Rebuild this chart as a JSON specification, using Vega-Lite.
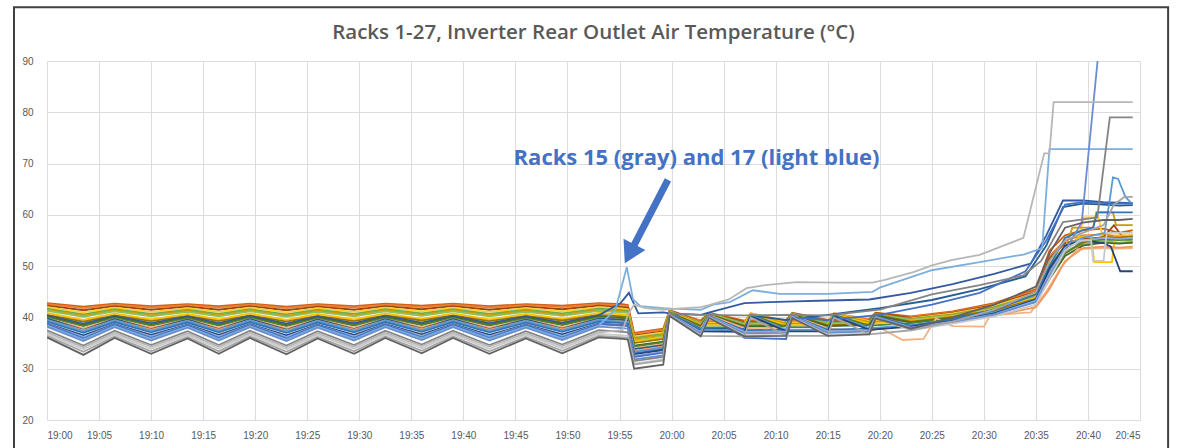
{
"$schema":"https://vega.github.io/schema/vega-lite/v6.json",
"width":1093,"height":359,
"autosize":{"type":"none"},
"padding":{"top":61,"left":47,"right":38,"bottom":28},
"background":"white",
"title":{"text":"Racks 1-27, Inverter Rear Outlet Air Temperature (°C)","font":"Open Sans","fontSize":20.5,"fontWeight":600,"color":"#595959","anchor":"middle","offset":-57,"baseline":"bottom"},
"config":{"view":{"stroke":null},"axis":{"grid":true,"gridColor":"#DCDCDC","gridWidth":1,"domain":false,"ticks":false,"labelFont":"Liberation Sans","labelFontSize":10,"labelColor":"#595959","title":null}},
"layer":[
{"data":{"values":[{}]},"mark":{"type":"rect","fill":"transparent","stroke":"#404040","strokeWidth":2,"clip":false},
 "encoding":{"x":{"datum":-3.17,"type":"quantitative"},"x2":{"datum":107.7},"y":{"datum":100.5,"type":"quantitative"},"y2":{"datum":12}}},
{"data":{"values":[
{"m":0,"r":20,"v":42.8},{"m":3.5,"r":20,"v":42.1},{"m":6.5,"r":20,"v":42.7},{"m":10,"r":20,"v":42.2},{"m":13.5,"r":20,"v":42.6},{"m":16.5,"r":20,"v":42.2},{"m":19.5,"r":20,"v":42.7},{"m":23,"r":20,"v":42.1},{"m":26,"r":20,"v":42.6},{"m":29.5,"r":20,"v":42.2},{"m":32.5,"r":20,"v":42.7},{"m":36,"r":20,"v":42.3},{"m":39,"r":20,"v":42.7},{"m":42.5,"r":20,"v":42.2},{"m":46,"r":20,"v":42.6},{"m":49.5,"r":20,"v":42.3},{"m":53,"r":20,"v":42.8},{"m":55.3,"r":20,"v":42.6},{"m":55.8,"r":20,"v":42.4},{"m":56.4,"r":20,"v":37.0},{"m":59.2,"r":20,"v":37.8},{"m":59.8,"r":20,"v":41.4},{"m":62.8,"r":20,"v":39.4},{"m":63.6,"r":20,"v":40.9},{"m":67,"r":20,"v":39.4},{"m":71,"r":20,"v":39.5},{"m":71.6,"r":20,"v":40.9},{"m":75,"r":20,"v":39.5},{"m":79,"r":20,"v":39.7},{"m":79.6,"r":20,"v":40.9},{"m":83,"r":20,"v":40.2},{"m":87,"r":20,"v":41.2},{"m":91,"r":20,"v":42.8},{"m":95,"r":20,"v":45.5},{"m":96.3,"r":20,"v":53},{"m":97.8,"r":20,"v":56},{"m":99.5,"r":20,"v":57},{"m":101.5,"r":20,"v":57.3},{"m":103,"r":20,"v":56.5},{"m":104.3,"r":20,"v":57},
{"m":0,"r":2,"v":42.6},{"m":3.5,"r":2,"v":41.8},{"m":6.5,"r":2,"v":42.5},{"m":10,"r":2,"v":41.9},{"m":13.5,"r":2,"v":42.4},{"m":16.5,"r":2,"v":41.9},{"m":19.5,"r":2,"v":42.5},{"m":23,"r":2,"v":41.8},{"m":26,"r":2,"v":42.4},{"m":29.5,"r":2,"v":41.9},{"m":32.5,"r":2,"v":42.5},{"m":36,"r":2,"v":42.0},{"m":39,"r":2,"v":42.5},{"m":42.5,"r":2,"v":41.9},{"m":46,"r":2,"v":42.4},{"m":49.5,"r":2,"v":42.0},{"m":53,"r":2,"v":42.6},{"m":55.3,"r":2,"v":42.3},{"m":55.8,"r":2,"v":42.2},{"m":56.4,"r":2,"v":36.8},{"m":59.2,"r":2,"v":37.6},{"m":59.8,"r":2,"v":41.3},{"m":62.8,"r":2,"v":39.3},{"m":67,"r":2,"v":39.2},{"m":67.6,"r":2,"v":40.8},{"m":71,"r":2,"v":39.3},{"m":75,"r":2,"v":39.3},{"m":75.6,"r":2,"v":40.8},{"m":79,"r":2,"v":39.6},{"m":83,"r":2,"v":40.1},{"m":87,"r":2,"v":41.0},{"m":91,"r":2,"v":42.6},{"m":95,"r":2,"v":45.2},{"m":96.3,"r":2,"v":52},{"m":97.8,"r":2,"v":55},{"m":99.5,"r":2,"v":56},{"m":101.5,"r":2,"v":56.2},{"m":103,"r":2,"v":55.8},{"m":104.3,"r":2,"v":56},
{"m":0,"r":8,"v":42.3},{"m":3.5,"r":8,"v":41.4},{"m":6.5,"r":8,"v":42.2},{"m":10,"r":8,"v":41.5},{"m":13.5,"r":8,"v":42.1},{"m":16.5,"r":8,"v":41.5},{"m":19.5,"r":8,"v":42.2},{"m":23,"r":8,"v":41.4},{"m":26,"r":8,"v":42.1},{"m":29.5,"r":8,"v":41.5},{"m":32.5,"r":8,"v":42.2},{"m":36,"r":8,"v":41.6},{"m":39,"r":8,"v":42.2},{"m":42.5,"r":8,"v":41.5},{"m":46,"r":8,"v":42.1},{"m":49.5,"r":8,"v":41.6},{"m":53,"r":8,"v":42.3},{"m":55.3,"r":8,"v":42.0},{"m":55.8,"r":8,"v":41.9},{"m":56.4,"r":8,"v":36.5},{"m":59.2,"r":8,"v":37.3},{"m":59.8,"r":8,"v":41.3},{"m":62.8,"r":8,"v":39.1},{"m":63.6,"r":8,"v":40.8},{"m":67,"r":8,"v":39.1},{"m":71,"r":8,"v":39.2},{"m":71.6,"r":8,"v":40.8},{"m":75,"r":8,"v":39.2},{"m":79,"r":8,"v":39.4},{"m":79.6,"r":8,"v":40.8},{"m":83,"r":8,"v":39.9},{"m":87,"r":8,"v":40.9},{"m":91,"r":8,"v":42.4},{"m":95,"r":8,"v":45},{"m":96.3,"r":8,"v":51.5},{"m":97.8,"r":8,"v":54.5},{"m":99.5,"r":8,"v":55.3},{"m":101.5,"r":8,"v":55.6},{"m":102.5,"r":8,"v":58},{"m":103.2,"r":8,"v":56},{"m":104.3,"r":8,"v":55.8},
{"m":0,"r":16,"v":42.0},{"m":3.5,"r":16,"v":41.0},{"m":6.5,"r":16,"v":41.9},{"m":10,"r":16,"v":41.1},{"m":13.5,"r":16,"v":41.8},{"m":16.5,"r":16,"v":41.1},{"m":19.5,"r":16,"v":41.9},{"m":23,"r":16,"v":41.0},{"m":26,"r":16,"v":41.8},{"m":29.5,"r":16,"v":41.1},{"m":32.5,"r":16,"v":41.9},{"m":36,"r":16,"v":41.2},{"m":39,"r":16,"v":41.9},{"m":42.5,"r":16,"v":41.1},{"m":46,"r":16,"v":41.8},{"m":49.5,"r":16,"v":41.2},{"m":53,"r":16,"v":42.0},{"m":55.3,"r":16,"v":41.7},{"m":55.8,"r":16,"v":41.6},{"m":56.4,"r":16,"v":36.3},{"m":59.2,"r":16,"v":37.1},{"m":59.8,"r":16,"v":41.2},{"m":62.8,"r":16,"v":39.0},{"m":67,"r":16,"v":38.9},{"m":67.6,"r":16,"v":40.8},{"m":71,"r":16,"v":39.0},{"m":75,"r":16,"v":39.0},{"m":75.6,"r":16,"v":40.8},{"m":79,"r":16,"v":39.3},{"m":83,"r":16,"v":39.8},{"m":87,"r":16,"v":40.8},{"m":91,"r":16,"v":42.2},{"m":95,"r":16,"v":44.8},{"m":96.3,"r":16,"v":50.5},{"m":97.8,"r":16,"v":54},{"m":99,"r":16,"v":55},{"m":99.6,"r":16,"v":59.5},{"m":101,"r":16,"v":59.5},{"m":101.5,"r":16,"v":55},{"m":103,"r":16,"v":54.5},{"m":104.3,"r":16,"v":54.5},
{"m":0,"r":6,"v":41.7},{"m":3.5,"r":6,"v":40.6},{"m":6.5,"r":6,"v":41.6},{"m":10,"r":6,"v":40.7},{"m":13.5,"r":6,"v":41.5},{"m":16.5,"r":6,"v":40.7},{"m":19.5,"r":6,"v":41.6},{"m":23,"r":6,"v":40.6},{"m":26,"r":6,"v":41.5},{"m":29.5,"r":6,"v":40.7},{"m":32.5,"r":6,"v":41.6},{"m":36,"r":6,"v":40.8},{"m":39,"r":6,"v":41.6},{"m":42.5,"r":6,"v":40.7},{"m":46,"r":6,"v":41.5},{"m":49.5,"r":6,"v":40.8},{"m":53,"r":6,"v":41.7},{"m":55.3,"r":6,"v":41.4},{"m":55.8,"r":6,"v":41.3},{"m":56.4,"r":6,"v":36.0},{"m":59.2,"r":6,"v":36.8},{"m":59.8,"r":6,"v":41.2},{"m":62.8,"r":6,"v":38.9},{"m":63.6,"r":6,"v":40.8},{"m":67,"r":6,"v":38.9},{"m":71,"r":6,"v":39.0},{"m":71.6,"r":6,"v":40.8},{"m":75,"r":6,"v":39.0},{"m":79,"r":6,"v":39.2},{"m":79.6,"r":6,"v":40.7},{"m":83,"r":6,"v":39.7},{"m":87,"r":6,"v":40.6},{"m":91,"r":6,"v":42.0},{"m":95,"r":6,"v":44.5},{"m":96.3,"r":6,"v":50},{"m":97.8,"r":6,"v":53.8},{"m":99.5,"r":6,"v":54.8},{"m":101.5,"r":6,"v":55},{"m":103,"r":6,"v":55.2},{"m":104.3,"r":6,"v":55},
{"m":0,"r":22,"v":41.5},{"m":3.5,"r":22,"v":40.3},{"m":6.5,"r":22,"v":41.4},{"m":10,"r":22,"v":40.4},{"m":13.5,"r":22,"v":41.3},{"m":16.5,"r":22,"v":40.4},{"m":19.5,"r":22,"v":41.4},{"m":23,"r":22,"v":40.3},{"m":26,"r":22,"v":41.3},{"m":29.5,"r":22,"v":40.4},{"m":32.5,"r":22,"v":41.4},{"m":36,"r":22,"v":40.5},{"m":39,"r":22,"v":41.4},{"m":42.5,"r":22,"v":40.4},{"m":46,"r":22,"v":41.3},{"m":49.5,"r":22,"v":40.5},{"m":53,"r":22,"v":41.5},{"m":55.3,"r":22,"v":41.2},{"m":55.8,"r":22,"v":41.1},{"m":56.4,"r":22,"v":35.8},{"m":59.2,"r":22,"v":36.6},{"m":59.8,"r":22,"v":41.2},{"m":62.8,"r":22,"v":38.8},{"m":67,"r":22,"v":38.7},{"m":67.6,"r":22,"v":40.7},{"m":71,"r":22,"v":38.8},{"m":75,"r":22,"v":38.8},{"m":75.6,"r":22,"v":40.7},{"m":79,"r":22,"v":39.1},{"m":83,"r":22,"v":39.6},{"m":87,"r":22,"v":40.5},{"m":91,"r":22,"v":41.8},{"m":95,"r":22,"v":44.2},{"m":96.3,"r":22,"v":49.5},{"m":97.8,"r":22,"v":53.5},{"m":98.5,"r":22,"v":57.5},{"m":100.5,"r":22,"v":57.5},{"m":100.8,"r":22,"v":60.5},{"m":102.4,"r":22,"v":60.5},{"m":102.7,"r":22,"v":58},{"m":104.3,"r":22,"v":58},
{"m":0,"r":18,"v":41.3},{"m":3.5,"r":18,"v":40.1},{"m":6.5,"r":18,"v":41.2},{"m":10,"r":18,"v":40.2},{"m":13.5,"r":18,"v":41.1},{"m":16.5,"r":18,"v":40.2},{"m":19.5,"r":18,"v":41.2},{"m":23,"r":18,"v":40.1},{"m":26,"r":18,"v":41.1},{"m":29.5,"r":18,"v":40.2},{"m":32.5,"r":18,"v":41.2},{"m":36,"r":18,"v":40.3},{"m":39,"r":18,"v":41.2},{"m":42.5,"r":18,"v":40.2},{"m":46,"r":18,"v":41.1},{"m":49.5,"r":18,"v":40.3},{"m":53,"r":18,"v":41.3},{"m":55.3,"r":18,"v":41.0},{"m":55.8,"r":18,"v":40.9},{"m":56.4,"r":18,"v":35.5},{"m":59.2,"r":18,"v":36.3},{"m":59.8,"r":18,"v":41.1},{"m":62.8,"r":18,"v":38.7},{"m":63.6,"r":18,"v":40.7},{"m":67,"r":18,"v":38.7},{"m":71,"r":18,"v":38.8},{"m":71.6,"r":18,"v":40.7},{"m":75,"r":18,"v":38.8},{"m":79,"r":18,"v":39.0},{"m":79.6,"r":18,"v":40.6},{"m":83,"r":18,"v":39.5},{"m":87,"r":18,"v":40.4},{"m":91,"r":18,"v":41.7},{"m":95,"r":18,"v":44},{"m":96.3,"r":18,"v":49},{"m":97.8,"r":18,"v":53},{"m":99.5,"r":18,"v":54.2},{"m":101.5,"r":18,"v":54.8},{"m":103,"r":18,"v":54.6},{"m":104.3,"r":18,"v":54.8},
{"m":0,"r":4,"v":40.9},{"m":3.5,"r":4,"v":39.5},{"m":6.5,"r":4,"v":40.8},{"m":10,"r":4,"v":39.6},{"m":13.5,"r":4,"v":40.7},{"m":16.5,"r":4,"v":39.6},{"m":19.5,"r":4,"v":40.8},{"m":23,"r":4,"v":39.5},{"m":26,"r":4,"v":40.7},{"m":29.5,"r":4,"v":39.6},{"m":32.5,"r":4,"v":40.8},{"m":36,"r":4,"v":39.7},{"m":39,"r":4,"v":40.8},{"m":42.5,"r":4,"v":39.6},{"m":46,"r":4,"v":40.7},{"m":49.5,"r":4,"v":39.7},{"m":53,"r":4,"v":40.9},{"m":55.3,"r":4,"v":40.6},{"m":55.8,"r":4,"v":40.5},{"m":56.4,"r":4,"v":35.3},{"m":59.2,"r":4,"v":36.1},{"m":59.8,"r":4,"v":41.1},{"m":62.8,"r":4,"v":38.5},{"m":67,"r":4,"v":38.4},{"m":67.6,"r":4,"v":40.6},{"m":71,"r":4,"v":38.5},{"m":75,"r":4,"v":38.5},{"m":75.6,"r":4,"v":40.6},{"m":79,"r":4,"v":38.8},{"m":83,"r":4,"v":39.3},{"m":87,"r":4,"v":40.2},{"m":91,"r":4,"v":41.5},{"m":95,"r":4,"v":43.8},{"m":96.3,"r":4,"v":48.5},{"m":97.8,"r":4,"v":53},{"m":99,"r":4,"v":55.5},{"m":100.3,"r":4,"v":56},{"m":100.6,"r":4,"v":50.8},{"m":102.3,"r":4,"v":50.8},{"m":102.6,"r":4,"v":56},{"m":104.3,"r":4,"v":56},
{"m":0,"r":10,"v":40.5},{"m":3.5,"r":10,"v":39.2},{"m":6.5,"r":10,"v":40.4},{"m":10,"r":10,"v":39.3},{"m":13.5,"r":10,"v":40.3},{"m":16.5,"r":10,"v":39.3},{"m":19.5,"r":10,"v":40.4},{"m":23,"r":10,"v":39.2},{"m":26,"r":10,"v":40.3},{"m":29.5,"r":10,"v":39.3},{"m":32.5,"r":10,"v":40.4},{"m":36,"r":10,"v":39.4},{"m":39,"r":10,"v":40.4},{"m":42.5,"r":10,"v":39.3},{"m":46,"r":10,"v":40.3},{"m":49.5,"r":10,"v":39.4},{"m":53,"r":10,"v":40.5},{"m":55.3,"r":10,"v":40.2},{"m":55.8,"r":10,"v":40.1},{"m":56.4,"r":10,"v":35.0},{"m":59.2,"r":10,"v":35.8},{"m":59.8,"r":10,"v":41.0},{"m":62.8,"r":10,"v":38.4},{"m":63.6,"r":10,"v":40.6},{"m":67,"r":10,"v":38.4},{"m":71,"r":10,"v":38.5},{"m":71.6,"r":10,"v":40.6},{"m":75,"r":10,"v":38.5},{"m":79,"r":10,"v":38.7},{"m":79.6,"r":10,"v":40.5},{"m":83,"r":10,"v":39.2},{"m":87,"r":10,"v":40.1},{"m":91,"r":10,"v":41.4},{"m":95,"r":10,"v":43.6},{"m":96.3,"r":10,"v":48.2},{"m":97.8,"r":10,"v":52.5},{"m":99.5,"r":10,"v":54.5},{"m":101.5,"r":10,"v":55.8},{"m":103,"r":10,"v":55.5},{"m":104.3,"r":10,"v":55.8},
{"m":0,"r":19,"v":40.4},{"m":3.5,"r":19,"v":38.8},{"m":6.5,"r":19,"v":40.3},{"m":10,"r":19,"v":38.9},{"m":13.5,"r":19,"v":40.2},{"m":16.5,"r":19,"v":38.9},{"m":19.5,"r":19,"v":40.3},{"m":23,"r":19,"v":38.8},{"m":26,"r":19,"v":40.2},{"m":29.5,"r":19,"v":38.9},{"m":32.5,"r":19,"v":40.3},{"m":36,"r":19,"v":39.0},{"m":39,"r":19,"v":40.3},{"m":42.5,"r":19,"v":38.9},{"m":46,"r":19,"v":40.2},{"m":49.5,"r":19,"v":39.0},{"m":53,"r":19,"v":40.4},{"m":55.1,"r":19,"v":42.8},{"m":55.9,"r":19,"v":44.8},{"m":56.8,"r":19,"v":40.8},{"m":59.2,"r":19,"v":41.0},{"m":59.8,"r":19,"v":40.8},{"m":62.8,"r":19,"v":40.5},{"m":64,"r":19,"v":41.2},{"m":67,"r":19,"v":42.8},{"m":71,"r":19,"v":43.1},{"m":75,"r":19,"v":43.3},{"m":79,"r":19,"v":43.5},{"m":83,"r":19,"v":44.8},{"m":87,"r":19,"v":46.5},{"m":91,"r":19,"v":48.5},{"m":94.5,"r":19,"v":50.5},{"m":96,"r":19,"v":56},{"m":97.6,"r":19,"v":62.8},{"m":99.5,"r":19,"v":62.8},{"m":101.5,"r":19,"v":62.5},{"m":103,"r":19,"v":62.4},{"m":104.3,"r":19,"v":62.3},
{"m":0,"r":12,"v":40.2},{"m":3.5,"r":12,"v":38.5},{"m":6.5,"r":12,"v":40.1},{"m":10,"r":12,"v":38.6},{"m":13.5,"r":12,"v":40.0},{"m":16.5,"r":12,"v":38.6},{"m":19.5,"r":12,"v":40.1},{"m":23,"r":12,"v":38.5},{"m":26,"r":12,"v":40.0},{"m":29.5,"r":12,"v":38.6},{"m":32.5,"r":12,"v":40.1},{"m":36,"r":12,"v":38.7},{"m":39,"r":12,"v":40.1},{"m":42.5,"r":12,"v":38.6},{"m":46,"r":12,"v":40.0},{"m":49.5,"r":12,"v":38.7},{"m":53,"r":12,"v":40.2},{"m":55.3,"r":12,"v":39.9},{"m":55.8,"r":12,"v":39.8},{"m":56.4,"r":12,"v":34.5},{"m":59.2,"r":12,"v":35.3},{"m":59.8,"r":12,"v":40.9},{"m":62.8,"r":12,"v":38.2},{"m":63.6,"r":12,"v":40.5},{"m":67,"r":12,"v":38.2},{"m":71,"r":12,"v":38.3},{"m":71.6,"r":12,"v":40.5},{"m":75,"r":12,"v":38.3},{"m":79,"r":12,"v":38.5},{"m":79.6,"r":12,"v":40.4},{"m":83,"r":12,"v":39.0},{"m":87,"r":12,"v":39.9},{"m":91,"r":12,"v":41.1},{"m":95,"r":12,"v":43.2},{"m":96.3,"r":12,"v":47.5},{"m":97.8,"r":12,"v":52},{"m":99.5,"r":12,"v":54},{"m":101.5,"r":12,"v":54.6},{"m":103,"r":12,"v":54.4},{"m":104.3,"r":12,"v":54.6},
{"m":0,"r":24,"v":40.0},{"m":3.5,"r":24,"v":38.3},{"m":6.5,"r":24,"v":39.9},{"m":10,"r":24,"v":38.4},{"m":13.5,"r":24,"v":39.8},{"m":16.5,"r":24,"v":38.4},{"m":19.5,"r":24,"v":39.9},{"m":23,"r":24,"v":38.3},{"m":26,"r":24,"v":39.8},{"m":29.5,"r":24,"v":38.4},{"m":32.5,"r":24,"v":39.9},{"m":36,"r":24,"v":38.5},{"m":39,"r":24,"v":39.9},{"m":42.5,"r":24,"v":38.4},{"m":46,"r":24,"v":39.8},{"m":49.5,"r":24,"v":38.5},{"m":53,"r":24,"v":40.0},{"m":55.3,"r":24,"v":39.7},{"m":55.8,"r":24,"v":39.6},{"m":56.4,"r":24,"v":34.3},{"m":59.2,"r":24,"v":35.1},{"m":59.8,"r":24,"v":40.9},{"m":62.8,"r":24,"v":38.1},{"m":67,"r":24,"v":38.0},{"m":67.6,"r":24,"v":40.5},{"m":71,"r":24,"v":38.1},{"m":75,"r":24,"v":38.1},{"m":75.6,"r":24,"v":40.5},{"m":79,"r":24,"v":38.4},{"m":83,"r":24,"v":38.9},{"m":87,"r":24,"v":39.8},{"m":91,"r":24,"v":41.0},{"m":95,"r":24,"v":43},{"m":96.3,"r":24,"v":47.5},{"m":97.8,"r":24,"v":52.5},{"m":99.5,"r":24,"v":54.8},{"m":101.5,"r":24,"v":55.3},{"m":103,"r":24,"v":55.1},{"m":104.3,"r":24,"v":55.3},
{"m":0,"r":26,"v":39.8},{"m":3.5,"r":26,"v":37.9},{"m":6.5,"r":26,"v":39.7},{"m":10,"r":26,"v":38.0},{"m":13.5,"r":26,"v":39.6},{"m":16.5,"r":26,"v":38.0},{"m":19.5,"r":26,"v":39.7},{"m":23,"r":26,"v":37.9},{"m":26,"r":26,"v":39.6},{"m":29.5,"r":26,"v":38.0},{"m":32.5,"r":26,"v":39.7},{"m":36,"r":26,"v":38.1},{"m":39,"r":26,"v":39.7},{"m":42.5,"r":26,"v":38.0},{"m":46,"r":26,"v":39.6},{"m":49.5,"r":26,"v":38.1},{"m":53,"r":26,"v":39.8},{"m":55.3,"r":26,"v":39.5},{"m":55.8,"r":26,"v":39.4},{"m":56.4,"r":26,"v":34.0},{"m":59.2,"r":26,"v":34.8},{"m":59.8,"r":26,"v":40.8},{"m":62.8,"r":26,"v":37.9},{"m":63.6,"r":26,"v":40.4},{"m":67,"r":26,"v":37.9},{"m":71,"r":26,"v":38.0},{"m":71.6,"r":26,"v":40.4},{"m":75,"r":26,"v":37.8},{"m":79,"r":26,"v":37.2},{"m":80,"r":26,"v":38.0},{"m":82.2,"r":26,"v":35.6},{"m":84.2,"r":26,"v":35.8},{"m":85.4,"r":26,"v":39.8},{"m":87,"r":26,"v":38.3},{"m":90,"r":26,"v":38.2},{"m":90.6,"r":26,"v":40.4},{"m":94.5,"r":26,"v":41},{"m":96,"r":26,"v":45},{"m":97.5,"r":26,"v":50},{"m":99,"r":26,"v":53.3},{"m":101.5,"r":26,"v":53.5},{"m":103,"r":26,"v":53.4},{"m":104.3,"r":26,"v":53.5},
{"m":0,"r":11,"v":39.8},{"m":3.5,"r":11,"v":37.6},{"m":6.5,"r":11,"v":39.7},{"m":10,"r":11,"v":37.7},{"m":13.5,"r":11,"v":39.6},{"m":16.5,"r":11,"v":37.7},{"m":19.5,"r":11,"v":39.7},{"m":23,"r":11,"v":37.6},{"m":26,"r":11,"v":39.6},{"m":29.5,"r":11,"v":37.7},{"m":32.5,"r":11,"v":39.7},{"m":36,"r":11,"v":37.8},{"m":39,"r":11,"v":39.7},{"m":42.5,"r":11,"v":37.7},{"m":46,"r":11,"v":39.6},{"m":49.5,"r":11,"v":37.8},{"m":53,"r":11,"v":39.8},{"m":55.3,"r":11,"v":39.5},{"m":55.8,"r":11,"v":39.4},{"m":56.4,"r":11,"v":33.8},{"m":59.2,"r":11,"v":34.6},{"m":59.8,"r":11,"v":40.8},{"m":62.8,"r":11,"v":37.8},{"m":67,"r":11,"v":37.7},{"m":67.6,"r":11,"v":40.4},{"m":71,"r":11,"v":39.5},{"m":75,"r":11,"v":40.5},{"m":80,"r":11,"v":41.8},{"m":85,"r":11,"v":43.4},{"m":89.6,"r":11,"v":45.5},{"m":94,"r":11,"v":48},{"m":96,"r":11,"v":54},{"m":97.6,"r":11,"v":61.5},{"m":99.5,"r":11,"v":62.2},{"m":101.5,"r":11,"v":62},{"m":103,"r":11,"v":61.8},{"m":104.3,"r":11,"v":61.9},
{"m":0,"r":14,"v":39.5},{"m":3.5,"r":14,"v":37.5},{"m":6.5,"r":14,"v":39.4},{"m":10,"r":14,"v":37.6},{"m":13.5,"r":14,"v":39.3},{"m":16.5,"r":14,"v":37.6},{"m":19.5,"r":14,"v":39.4},{"m":23,"r":14,"v":37.5},{"m":26,"r":14,"v":39.3},{"m":29.5,"r":14,"v":37.6},{"m":32.5,"r":14,"v":39.4},{"m":36,"r":14,"v":37.7},{"m":39,"r":14,"v":39.4},{"m":42.5,"r":14,"v":37.6},{"m":46,"r":14,"v":39.3},{"m":49.5,"r":14,"v":37.7},{"m":53,"r":14,"v":39.5},{"m":55.3,"r":14,"v":39.2},{"m":55.8,"r":14,"v":39.1},{"m":56.4,"r":14,"v":33.5},{"m":59.2,"r":14,"v":34.3},{"m":59.8,"r":14,"v":40.8},{"m":62.8,"r":14,"v":36.8},{"m":63.6,"r":14,"v":40.3},{"m":67,"r":14,"v":37.0},{"m":71,"r":14,"v":37.2},{"m":71.6,"r":14,"v":40.3},{"m":75,"r":14,"v":37.2},{"m":79,"r":14,"v":37.6},{"m":79.6,"r":14,"v":40.0},{"m":83,"r":14,"v":38.2},{"m":87,"r":14,"v":39.0},{"m":91,"r":14,"v":40.3},{"m":95,"r":14,"v":42},{"m":96.3,"r":14,"v":45.5},{"m":97.8,"r":14,"v":51},{"m":99.5,"r":14,"v":53.5},{"m":101.5,"r":14,"v":53.8},{"m":103,"r":14,"v":53.6},{"m":104.3,"r":14,"v":53.8},
{"m":0,"r":5,"v":39.5},{"m":3.5,"r":5,"v":37.3},{"m":6.5,"r":5,"v":39.4},{"m":10,"r":5,"v":37.4},{"m":13.5,"r":5,"v":39.3},{"m":16.5,"r":5,"v":37.4},{"m":19.5,"r":5,"v":39.4},{"m":23,"r":5,"v":37.3},{"m":26,"r":5,"v":39.3},{"m":29.5,"r":5,"v":37.4},{"m":32.5,"r":5,"v":39.4},{"m":36,"r":5,"v":37.5},{"m":39,"r":5,"v":39.4},{"m":42.5,"r":5,"v":37.4},{"m":46,"r":5,"v":39.3},{"m":49.5,"r":5,"v":37.5},{"m":53,"r":5,"v":39.5},{"m":55.3,"r":5,"v":39.2},{"m":55.8,"r":5,"v":39.1},{"m":56.4,"r":5,"v":33.3},{"m":59.2,"r":5,"v":34.1},{"m":59.8,"r":5,"v":40.7},{"m":62.8,"r":5,"v":37.6},{"m":67,"r":5,"v":37.5},{"m":67.6,"r":5,"v":40.4},{"m":71,"r":5,"v":37.6},{"m":75,"r":5,"v":37.6},{"m":75.6,"r":5,"v":40.4},{"m":79,"r":5,"v":37.9},{"m":83,"r":5,"v":38.5},{"m":87,"r":5,"v":39.5},{"m":91,"r":5,"v":41},{"m":95,"r":5,"v":43.5},{"m":96.3,"r":5,"v":49},{"m":97.8,"r":5,"v":54},{"m":99.5,"r":5,"v":55.5},{"m":101.6,"r":5,"v":56.5},{"m":102.1,"r":5,"v":63},{"m":102.4,"r":5,"v":67.3},{"m":102.9,"r":5,"v":67},{"m":103.6,"r":5,"v":63.5},{"m":104.3,"r":5,"v":62},
{"m":0,"r":23,"v":39.2},{"m":3.5,"r":23,"v":37.0},{"m":6.5,"r":23,"v":39.1},{"m":10,"r":23,"v":37.1},{"m":13.5,"r":23,"v":39.0},{"m":16.5,"r":23,"v":37.1},{"m":19.5,"r":23,"v":39.1},{"m":23,"r":23,"v":37.0},{"m":26,"r":23,"v":39.0},{"m":29.5,"r":23,"v":37.1},{"m":32.5,"r":23,"v":39.1},{"m":36,"r":23,"v":37.2},{"m":39,"r":23,"v":39.1},{"m":42.5,"r":23,"v":37.1},{"m":46,"r":23,"v":39.0},{"m":49.5,"r":23,"v":37.2},{"m":53,"r":23,"v":39.2},{"m":55.3,"r":23,"v":38.9},{"m":55.8,"r":23,"v":38.8},{"m":56.4,"r":23,"v":33.0},{"m":59.2,"r":23,"v":33.8},{"m":59.8,"r":23,"v":40.7},{"m":62.8,"r":23,"v":37.5},{"m":63.6,"r":23,"v":40.3},{"m":67,"r":23,"v":37.5},{"m":71,"r":23,"v":37.6},{"m":71.6,"r":23,"v":40.3},{"m":75,"r":23,"v":37.6},{"m":79,"r":23,"v":37.8},{"m":79.6,"r":23,"v":40.2},{"m":83,"r":23,"v":38.4},{"m":87,"r":23,"v":39.6},{"m":91,"r":23,"v":41.5},{"m":95,"r":23,"v":44.5},{"m":96.3,"r":23,"v":50},{"m":97.8,"r":23,"v":55.5},{"m":99.5,"r":23,"v":57},{"m":100.5,"r":23,"v":57.5},{"m":100.9,"r":23,"v":60.5},{"m":104.3,"r":23,"v":60.5},
{"m":0,"r":7,"v":38.8},{"m":3.5,"r":7,"v":36.5},{"m":6.5,"r":7,"v":38.7},{"m":10,"r":7,"v":36.6},{"m":13.5,"r":7,"v":38.6},{"m":16.5,"r":7,"v":36.6},{"m":19.5,"r":7,"v":38.7},{"m":23,"r":7,"v":36.5},{"m":26,"r":7,"v":38.6},{"m":29.5,"r":7,"v":36.6},{"m":32.5,"r":7,"v":38.7},{"m":36,"r":7,"v":36.7},{"m":39,"r":7,"v":38.7},{"m":42.5,"r":7,"v":36.6},{"m":46,"r":7,"v":38.6},{"m":49.5,"r":7,"v":36.7},{"m":53,"r":7,"v":38.8},{"m":55.3,"r":7,"v":38.5},{"m":55.8,"r":7,"v":38.4},{"m":56.4,"r":7,"v":32.8},{"m":59.2,"r":7,"v":33.6},{"m":59.8,"r":7,"v":40.6},{"m":62.8,"r":7,"v":37.3},{"m":67,"r":7,"v":37.2},{"m":67.6,"r":7,"v":40.3},{"m":71,"r":7,"v":37.3},{"m":75,"r":7,"v":37.3},{"m":75.6,"r":7,"v":40.3},{"m":79,"r":7,"v":37.6},{"m":83,"r":7,"v":38.2},{"m":87,"r":7,"v":39.3},{"m":91,"r":7,"v":40.8},{"m":95,"r":7,"v":43.5},{"m":96.3,"r":7,"v":49.5},{"m":97.8,"r":7,"v":54},{"m":99.5,"r":7,"v":55},{"m":101.5,"r":7,"v":54.5},{"m":102.2,"r":7,"v":53.8},{"m":103.1,"r":7,"v":49},{"m":104.3,"r":7,"v":49},
{"m":0,"r":25,"v":38.7},{"m":3.5,"r":25,"v":36.2},{"m":6.5,"r":25,"v":38.6},{"m":10,"r":25,"v":36.3},{"m":13.5,"r":25,"v":38.5},{"m":16.5,"r":25,"v":36.3},{"m":19.5,"r":25,"v":38.6},{"m":23,"r":25,"v":36.2},{"m":26,"r":25,"v":38.5},{"m":29.5,"r":25,"v":36.3},{"m":32.5,"r":25,"v":38.6},{"m":36,"r":25,"v":36.4},{"m":39,"r":25,"v":38.6},{"m":42.5,"r":25,"v":36.3},{"m":46,"r":25,"v":38.5},{"m":49.5,"r":25,"v":36.4},{"m":53,"r":25,"v":38.7},{"m":55.3,"r":25,"v":38.4},{"m":55.8,"r":25,"v":38.3},{"m":56.4,"r":25,"v":32.5},{"m":59.2,"r":25,"v":33.3},{"m":59.8,"r":25,"v":40.6},{"m":62.8,"r":25,"v":37.2},{"m":63.6,"r":25,"v":40.2},{"m":67,"r":25,"v":37.2},{"m":71,"r":25,"v":37.3},{"m":71.6,"r":25,"v":40.2},{"m":75,"r":25,"v":37.3},{"m":79,"r":25,"v":37.5},{"m":79.6,"r":25,"v":40.1},{"m":83,"r":25,"v":38.0},{"m":87,"r":25,"v":39.2},{"m":91,"r":25,"v":40.6},{"m":95,"r":25,"v":43.3},{"m":96.3,"r":25,"v":48.5},{"m":97.8,"r":25,"v":53.5},{"m":99.5,"r":25,"v":55},{"m":101.5,"r":25,"v":55.5},{"m":103,"r":25,"v":55.3},{"m":104.3,"r":25,"v":55.5},
{"m":0,"r":1,"v":38.7},{"m":3.5,"r":1,"v":35.9},{"m":6.5,"r":1,"v":38.6},{"m":10,"r":1,"v":36.0},{"m":13.5,"r":1,"v":38.5},{"m":16.5,"r":1,"v":36.0},{"m":19.5,"r":1,"v":38.6},{"m":23,"r":1,"v":35.9},{"m":26,"r":1,"v":38.5},{"m":29.5,"r":1,"v":36.0},{"m":32.5,"r":1,"v":38.6},{"m":36,"r":1,"v":36.1},{"m":39,"r":1,"v":38.6},{"m":42.5,"r":1,"v":36.0},{"m":46,"r":1,"v":38.5},{"m":49.5,"r":1,"v":36.1},{"m":53,"r":1,"v":38.7},{"m":55.3,"r":1,"v":38.4},{"m":55.8,"r":1,"v":38.3},{"m":56.4,"r":1,"v":32.3},{"m":59.2,"r":1,"v":33.1},{"m":59.8,"r":1,"v":40.5},{"m":62.8,"r":1,"v":36.5},{"m":63.6,"r":1,"v":40.2},{"m":67,"r":1,"v":36.0},{"m":71,"r":1,"v":35.8},{"m":71.6,"r":1,"v":40.0},{"m":75,"r":1,"v":39.5},{"m":80,"r":1,"v":40.5},{"m":85,"r":1,"v":42.5},{"m":89.6,"r":1,"v":44.8},{"m":94,"r":1,"v":49},{"m":96,"r":1,"v":55},{"m":97.8,"r":1,"v":62},{"m":99.5,"r":1,"v":62.5},{"m":101.5,"r":1,"v":62.3},{"m":103,"r":1,"v":62.2},{"m":104.3,"r":1,"v":62.2},
{"m":0,"r":17,"v":38.4},{"m":3.5,"r":17,"v":35.7},{"m":6.5,"r":17,"v":38.3},{"m":10,"r":17,"v":35.8},{"m":13.5,"r":17,"v":38.2},{"m":16.5,"r":17,"v":35.8},{"m":19.5,"r":17,"v":38.3},{"m":23,"r":17,"v":35.7},{"m":26,"r":17,"v":38.2},{"m":29.5,"r":17,"v":35.8},{"m":32.5,"r":17,"v":38.3},{"m":36,"r":17,"v":35.9},{"m":39,"r":17,"v":38.3},{"m":42.5,"r":17,"v":35.8},{"m":46,"r":17,"v":38.2},{"m":49.5,"r":17,"v":35.9},{"m":53,"r":17,"v":38.4},{"m":54.6,"r":17,"v":41.5},{"m":55.7,"r":17,"v":49.8},{"m":56.3,"r":17,"v":43.5},{"m":57,"r":17,"v":42.2},{"m":59.2,"r":17,"v":41.8},{"m":60,"r":17,"v":41.7},{"m":62.8,"r":17,"v":41.5},{"m":64,"r":17,"v":42.5},{"m":65.6,"r":17,"v":43},{"m":67.8,"r":17,"v":45.3},{"m":70.4,"r":17,"v":44.6},{"m":75,"r":17,"v":44.6},{"m":79.3,"r":17,"v":45},{"m":80,"r":17,"v":45.8},{"m":85,"r":17,"v":49.2},{"m":89.6,"r":17,"v":50.8},{"m":93.9,"r":17,"v":52.3},{"m":95.6,"r":17,"v":53.5},{"m":96.3,"r":17,"v":72.8},{"m":104.3,"r":17,"v":72.8},
{"m":0,"r":13,"v":38.2},{"m":3.5,"r":13,"v":35.4},{"m":6.5,"r":13,"v":38.1},{"m":10,"r":13,"v":35.5},{"m":13.5,"r":13,"v":38.0},{"m":16.5,"r":13,"v":35.5},{"m":19.5,"r":13,"v":38.1},{"m":23,"r":13,"v":35.4},{"m":26,"r":13,"v":38.0},{"m":29.5,"r":13,"v":35.5},{"m":32.5,"r":13,"v":38.1},{"m":36,"r":13,"v":35.6},{"m":39,"r":13,"v":38.1},{"m":42.5,"r":13,"v":35.5},{"m":46,"r":13,"v":38.0},{"m":49.5,"r":13,"v":35.6},{"m":53,"r":13,"v":38.2},{"m":55.3,"r":13,"v":37.9},{"m":55.8,"r":13,"v":37.8},{"m":56.4,"r":13,"v":31.8},{"m":59.2,"r":13,"v":32.6},{"m":59.8,"r":13,"v":40.5},{"m":62.8,"r":13,"v":36.9},{"m":63.6,"r":13,"v":40.1},{"m":67,"r":13,"v":36.9},{"m":71,"r":13,"v":37.0},{"m":71.6,"r":13,"v":40.1},{"m":75,"r":13,"v":37.0},{"m":79,"r":13,"v":37.3},{"m":79.6,"r":13,"v":40.0},{"m":83,"r":13,"v":37.9},{"m":87,"r":13,"v":39.0},{"m":91,"r":13,"v":40.5},{"m":95,"r":13,"v":43},{"m":96.3,"r":13,"v":48},{"m":97.8,"r":13,"v":53},{"m":99.4,"r":13,"v":58.5},{"m":101.6,"r":13,"v":104},
{"m":0,"r":21,"v":37.5},{"m":3.5,"r":21,"v":34.5},{"m":6.5,"r":21,"v":37.4},{"m":10,"r":21,"v":34.6},{"m":13.5,"r":21,"v":37.3},{"m":16.5,"r":21,"v":34.6},{"m":19.5,"r":21,"v":37.4},{"m":23,"r":21,"v":34.5},{"m":26,"r":21,"v":37.3},{"m":29.5,"r":21,"v":34.6},{"m":32.5,"r":21,"v":37.4},{"m":36,"r":21,"v":34.7},{"m":39,"r":21,"v":37.4},{"m":42.5,"r":21,"v":34.6},{"m":46,"r":21,"v":37.3},{"m":49.5,"r":21,"v":34.7},{"m":53,"r":21,"v":37.5},{"m":55.3,"r":21,"v":37.2},{"m":55.8,"r":21,"v":37.1},{"m":56.4,"r":21,"v":31.5},{"m":59.2,"r":21,"v":32.3},{"m":59.8,"r":21,"v":40.8},{"m":62.8,"r":21,"v":40.5},{"m":67,"r":21,"v":40.4},{"m":71,"r":21,"v":40.5},{"m":75,"r":21,"v":40.4},{"m":80,"r":21,"v":41.5},{"m":85,"r":21,"v":44.5},{"m":89.6,"r":21,"v":46.3},{"m":93.8,"r":21,"v":48.2},{"m":95.5,"r":21,"v":51},{"m":97.6,"r":21,"v":58.6},{"m":100.9,"r":21,"v":59.5},{"m":102.1,"r":21,"v":79},{"m":104.3,"r":21,"v":79},
{"m":0,"r":15,"v":37.1},{"m":3.5,"r":15,"v":34.2},{"m":6.5,"r":15,"v":37.0},{"m":10,"r":15,"v":34.3},{"m":13.5,"r":15,"v":36.9},{"m":16.5,"r":15,"v":34.3},{"m":19.5,"r":15,"v":37.0},{"m":23,"r":15,"v":34.2},{"m":26,"r":15,"v":36.9},{"m":29.5,"r":15,"v":34.3},{"m":32.5,"r":15,"v":37.0},{"m":36,"r":15,"v":34.4},{"m":39,"r":15,"v":37.0},{"m":42.5,"r":15,"v":34.3},{"m":46,"r":15,"v":36.9},{"m":49.5,"r":15,"v":34.4},{"m":53,"r":15,"v":37.1},{"m":55.3,"r":15,"v":37.5},{"m":55.8,"r":15,"v":40.5},{"m":56.4,"r":15,"v":42.5},{"m":57.5,"r":15,"v":41.8},{"m":59.2,"r":15,"v":41.5},{"m":59.8,"r":15,"v":41.6},{"m":62.8,"r":15,"v":42},{"m":63.6,"r":15,"v":42.4},{"m":65.5,"r":15,"v":43.5},{"m":67.2,"r":15,"v":45.7},{"m":69,"r":15,"v":46.3},{"m":72,"r":15,"v":46.9},{"m":76,"r":15,"v":46.8},{"m":79.3,"r":15,"v":46.8},{"m":80.5,"r":15,"v":47.3},{"m":83.3,"r":15,"v":48.9},{"m":85.1,"r":15,"v":50.2},{"m":87,"r":15,"v":51.2},{"m":89.6,"r":15,"v":52.2},{"m":93.8,"r":15,"v":55.5},{"m":95.8,"r":15,"v":72},{"m":96.3,"r":15,"v":72},{"m":96.7,"r":15,"v":82},{"m":104.3,"r":15,"v":82},
{"m":0,"r":27,"v":36.8},{"m":3.5,"r":27,"v":33.8},{"m":6.5,"r":27,"v":36.7},{"m":10,"r":27,"v":33.9},{"m":13.5,"r":27,"v":36.6},{"m":16.5,"r":27,"v":33.9},{"m":19.5,"r":27,"v":36.7},{"m":23,"r":27,"v":33.8},{"m":26,"r":27,"v":36.6},{"m":29.5,"r":27,"v":33.9},{"m":32.5,"r":27,"v":36.7},{"m":36,"r":27,"v":34.0},{"m":39,"r":27,"v":36.7},{"m":42.5,"r":27,"v":33.9},{"m":46,"r":27,"v":36.6},{"m":49.5,"r":27,"v":34.0},{"m":53,"r":27,"v":36.8},{"m":55.3,"r":27,"v":36.5},{"m":55.8,"r":27,"v":36.4},{"m":56.4,"r":27,"v":31.0},{"m":59.2,"r":27,"v":31.8},{"m":59.8,"r":27,"v":40.4},{"m":62.8,"r":27,"v":36.5},{"m":63.6,"r":27,"v":40.0},{"m":67,"r":27,"v":36.5},{"m":71,"r":27,"v":36.6},{"m":71.6,"r":27,"v":40.0},{"m":75,"r":27,"v":36.6},{"m":79,"r":27,"v":36.9},{"m":79.6,"r":27,"v":39.9},{"m":83,"r":27,"v":37.5},{"m":87,"r":27,"v":38.8},{"m":91,"r":27,"v":40.2},{"m":95,"r":27,"v":42.5},{"m":96.3,"r":27,"v":47.5},{"m":97.8,"r":27,"v":53},{"m":99.2,"r":27,"v":55},{"m":100.3,"r":27,"v":55},{"m":100.5,"r":27,"v":51},{"m":101.5,"r":27,"v":51},{"m":101.8,"r":27,"v":56.5},{"m":104.3,"r":27,"v":56.5},
{"m":0,"r":3,"v":36.4},{"m":3.5,"r":3,"v":33.3},{"m":6.5,"r":3,"v":36.3},{"m":10,"r":3,"v":33.4},{"m":13.5,"r":3,"v":36.2},{"m":16.5,"r":3,"v":33.4},{"m":19.5,"r":3,"v":36.3},{"m":23,"r":3,"v":33.3},{"m":26,"r":3,"v":36.2},{"m":29.5,"r":3,"v":33.4},{"m":32.5,"r":3,"v":36.3},{"m":36,"r":3,"v":33.5},{"m":39,"r":3,"v":36.3},{"m":42.5,"r":3,"v":33.4},{"m":46,"r":3,"v":36.2},{"m":49.5,"r":3,"v":33.5},{"m":53,"r":3,"v":36.4},{"m":55.3,"r":3,"v":36.1},{"m":55.8,"r":3,"v":36.0},{"m":56.4,"r":3,"v":30.8},{"m":59.2,"r":3,"v":31.6},{"m":59.8,"r":3,"v":40.4},{"m":62.8,"r":3,"v":36.4},{"m":67,"r":3,"v":36.3},{"m":67.6,"r":3,"v":40.0},{"m":71,"r":3,"v":36.4},{"m":75,"r":3,"v":36.4},{"m":75.6,"r":3,"v":40.0},{"m":79,"r":3,"v":36.7},{"m":83,"r":3,"v":37.5},{"m":87,"r":3,"v":39.2},{"m":91,"r":3,"v":41.5},{"m":95,"r":3,"v":45},{"m":96.3,"r":3,"v":51},{"m":97.8,"r":3,"v":55},{"m":99.5,"r":3,"v":56.5},{"m":101.5,"r":3,"v":58},{"m":102.5,"r":3,"v":62},{"m":103.5,"r":3,"v":63.5},{"m":104.3,"r":3,"v":63.5},
{"m":0,"r":9,"v":36.1},{"m":3.5,"r":9,"v":32.7},{"m":6.5,"r":9,"v":36.0},{"m":10,"r":9,"v":32.9},{"m":13.5,"r":9,"v":35.9},{"m":16.5,"r":9,"v":32.9},{"m":19.5,"r":9,"v":36.0},{"m":23,"r":9,"v":32.8},{"m":26,"r":9,"v":35.9},{"m":29.5,"r":9,"v":32.9},{"m":32.5,"r":9,"v":36.0},{"m":36,"r":9,"v":33.0},{"m":39,"r":9,"v":36.0},{"m":42.5,"r":9,"v":32.9},{"m":46,"r":9,"v":35.9},{"m":49.5,"r":9,"v":33.0},{"m":53,"r":9,"v":36.1},{"m":55.3,"r":9,"v":35.8},{"m":55.8,"r":9,"v":35.7},{"m":56.4,"r":9,"v":30.0},{"m":59.2,"r":9,"v":30.8},{"m":59.8,"r":9,"v":40.3},{"m":62.8,"r":9,"v":36.3},{"m":63.6,"r":9,"v":39.9},{"m":67,"r":9,"v":36.3},{"m":71,"r":9,"v":36.4},{"m":71.6,"r":9,"v":39.9},{"m":75,"r":9,"v":36.4},{"m":79,"r":9,"v":36.7},{"m":79.6,"r":9,"v":39.8},{"m":83,"r":9,"v":37.8},{"m":87,"r":9,"v":40},{"m":91,"r":9,"v":42.5},{"m":95,"r":9,"v":46},{"m":96.3,"r":9,"v":52.5},{"m":97.8,"r":9,"v":57.5},{"m":99.5,"r":9,"v":58.5},{"m":101.5,"r":9,"v":59},{"m":103,"r":9,"v":59},{"m":104.3,"r":9,"v":59.2}
]},
 "mark":{"type":"line","strokeWidth":1.8,"clip":true},
 "encoding":{
  "x":{"field":"m","type":"quantitative","scale":{"domain":[0,105],"nice":false,"zero":false},"axis":{"values":[0,5,10,15,20,25,30,35,40,45,50,55,60,65,70,75,80,85,90,95,100,105],"labelPadding":10,"labelExpr":"(datum.value < 60 ? '19:' : '20:') + (datum.value % 60 < 10 ? '0' : '') + (datum.value % 60)"}},
  "y":{"field":"v","type":"quantitative","scale":{"domain":[20,90],"nice":false,"zero":false},"axis":{"values":[20,30,40,50,60,70,80,90],"labelPadding":14}},
  "color":{"field":"r","type":"nominal","legend":null,"scale":{"domain":[1,2,3,4,5,6,7,8,9,10,11,12,13,14,15,16,17,18,19,20,21,22,23,24,25,26,27],"range":["#4472C4","#ED7D31","#A5A5A5","#FFC000","#5B9BD5","#70AD47","#264478","#9E480E","#636363","#997300","#255E91","#43682B","#698ED0","#F1975A","#B7B7B7","#FFCD33","#7CAFDD","#8CC168","#335AA1","#D26012","#848484","#CC9A00","#2E75B6","#548235","#8FAADC","#F4B183","#C9C9C9"]}}
 }},
{"data":{"values":[{}]},"mark":{"type":"rule","color":"#4472C4","strokeWidth":7},
 "encoding":{"x":{"datum":59.65,"type":"quantitative"},"y":{"datum":66.8,"type":"quantitative"},"x2":{"datum":56.3},"y2":{"datum":53.7}}},
{"data":{"values":[{}]},"mark":{"type":"point","shape":"triangle-up","filled":true,"size":600,"angle":207,"color":"#4472C4","opacity":1},
 "encoding":{"x":{"datum":55.97,"type":"quantitative"},"y":{"datum":52.4,"type":"quantitative"}}},
{"data":{"values":[{}]},"mark":{"type":"text","text":"Racks 15 (gray) and 17 (light blue)","font":"Open Sans","fontWeight":"bold","fontSize":22,"color":"#4472C4","align":"center","baseline":"middle"},
 "encoding":{"x":{"datum":62.4,"type":"quantitative"},"y":{"datum":71.1,"type":"quantitative"}}}
]
}
